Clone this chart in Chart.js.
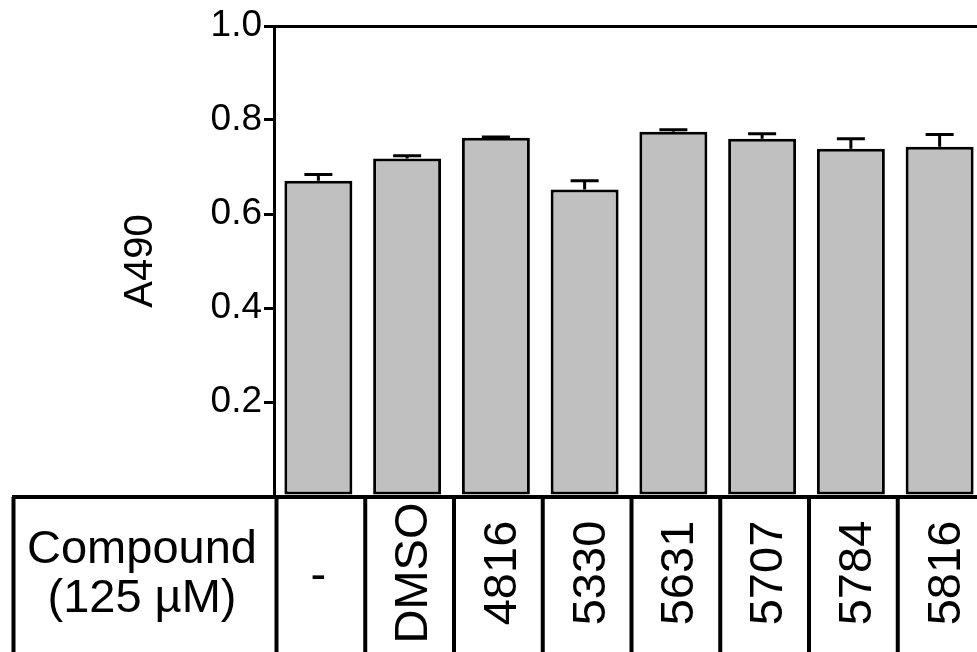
<!DOCTYPE html>
<html lang="en">
<head>
<meta charset="UTF-8">
<title>A490</title>
<script src="https://cdn.jsdelivr.net/npm/chart.js"></script>
<style>
  html, body { margin: 0; padding: 0; overflow: hidden; background: #fff; }
  canvas { display: block; }
</style>
</head>
<body>
<canvas id="grafico" width="984" height="652"></canvas>
<script>
const compostos = ['-', 'DMSO', '4816', '5330', '5631', '5707', '5784', '5816'];
const medias = [0.671, 0.718, 0.762, 0.652, 0.775, 0.760, 0.739, 0.743];
const erros = [0.013, 0.006, 0.002, 0.019, 0.004, 0.011, 0.021, 0.026];
const rotuloTabela = ['Compound', '(125 µM)'];
const fonte = '"Liberation Sans", Arial, sans-serif';

// error bars, only the upper half like the original
const barrasErro = {
  id: 'barrasErro',
  afterDatasetsDraw(chart) {
    const ctx = chart.ctx;
    const y = chart.scales.y;
    const meta = chart.getDatasetMeta(0);
    ctx.save();
    ctx.strokeStyle = '#000';
    ctx.lineWidth = 3;
    for (let i = 0; i < medias.length; i++) {
      const x = meta.data[i].x;
      const y0 = y.getPixelForValue(medias[i]);
      const y1 = y.getPixelForValue(medias[i] + erros[i]);
      ctx.beginPath();
      ctx.moveTo(x, y0);
      ctx.lineTo(x, y1);
      ctx.moveTo(x - 14, y1);
      ctx.lineTo(x + 14, y1);
      ctx.stroke();
    }
    ctx.restore();
  }
};

// table under the bars
const tabela = {
  id: 'tabela',
  afterDraw(chart) {
    const ctx = chart.ctx;
    const xs = chart.scales.x;
    const area = chart.chartArea;
    const meia = (xs.getPixelForValue(1) - xs.getPixelForValue(0)) / 2;
    const topo = area.bottom + 1;
    const fim = chart.height;
    ctx.save();
    ctx.strokeStyle = '#000';
    ctx.lineWidth = 4;
    ctx.beginPath();
    ctx.moveTo(12, topo);
    ctx.lineTo(chart.width, topo);
    ctx.moveTo(13.5, topo);
    ctx.lineTo(13.5, fim);
    for (let i = 0; i < compostos.length; i++) {
      const xe = xs.getPixelForValue(i) - meia + 2.5;
      ctx.moveTo(xe, topo);
      ctx.lineTo(xe, fim);
    }
    ctx.stroke();

    ctx.fillStyle = '#000';
    ctx.font = '47px ' + fonte;
    ctx.textAlign = 'center';
    ctx.textBaseline = 'alphabetic';
    ctx.fillText(rotuloTabela[0], 142, 563);
    ctx.fillText(rotuloTabela[1], 142, 612);

    for (let i = 0; i < compostos.length; i++) {
      const xc = xs.getPixelForValue(i);
      if (compostos[i] === '-') {
        ctx.fillText(compostos[i], xc, 590);
        continue;
      }
      ctx.save();
      ctx.translate(xc + 20, 573);
      ctx.rotate(-Math.PI / 2);
      ctx.fillText(compostos[i], 0, 0);
      ctx.restore();
    }
    ctx.restore();
  }
};

Chart.defaults.color = '#000';
Chart.defaults.font.family = fonte;

new Chart(document.getElementById('grafico'), {
  type: 'bar',
  data: {
    labels: compostos,
    datasets: [{
      label: 'A490',
      data: medias,
      backgroundColor: '#c0c0c0',
      borderColor: '#000',
      borderWidth: 3,
      borderSkipped: false,
      barPercentage: 0.766,
      categoryPercentage: 1
    }]
  },
  options: {
    responsive: false,
    animation: false,
    devicePixelRatio: 1,
    layout: { padding: { top: 26, bottom: 156, left: 0, right: 0 } },
    plugins: {
      legend: { display: false },
      tooltip: { enabled: false }
    },
    scales: {
      x: { display: false },
      y: {
        min: 0,
        max: 1,
        afterFit(scale) { scale.width = 274; },
        border: { display: true, color: '#000', width: 3 },
        grid: {
          drawOnChartArea: true,
          color: c => (c.tick && Math.abs(c.tick.value - 1) < 1e-6) ? '#000' : 'rgba(0,0,0,0)',
          lineWidth: 3,
          tickColor: '#000',
          tickWidth: 3,
          tickLength: 10
        },
        ticks: {
          stepSize: 0.2,
          padding: 2,
          font: { size: 37 },
          callback: v => v < 0.01 ? '' : v.toFixed(1)
        },
        title: {
          display: true,
          text: 'A490',
          font: { size: 40 },
          padding: { top: 117, bottom: 0 }
        }
      }
    }
  },
  plugins: [barrasErro, tabela]
});
</script>
</body>
</html>
